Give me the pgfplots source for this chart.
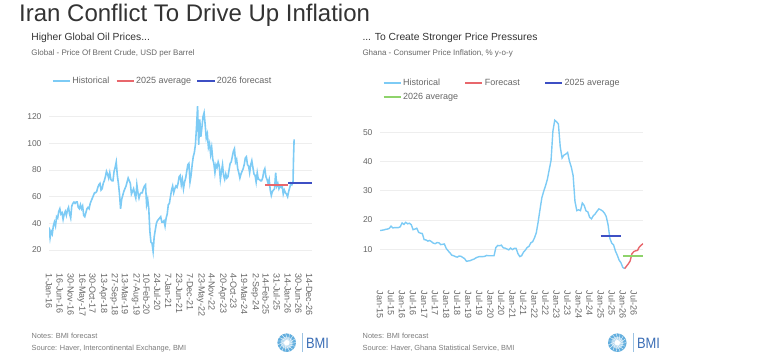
\documentclass[border=0pt]{standalone}
\usepackage{pgfplots}
\pgfplotsset{compat=1.18}
\usepackage{fontspec}
\setmainfont{Liberation Sans}
\definecolor{histblue}{HTML}{7DCBF5}
\definecolor{avgred}{HTML}{E8676C}
\definecolor{avgblue}{HTML}{3D4FC4}
\definecolor{avggreen}{HTML}{8ED36B}
\definecolor{txtdark}{HTML}{333333}
\definecolor{txtgrey}{HTML}{666666}
\definecolor{notegrey}{HTML}{7A7A7A}
\definecolor{gridc}{HTML}{EEEEEE}
\definecolor{bmiblue}{HTML}{3A6DB5}
\definecolor{logolight}{HTML}{62AEDE}
\definecolor{barc}{HTML}{9CC3E3}

\pgfplotsset{
 bmi/.style={
  scale only axis, axis line style={draw=none},
  major tick style={draw=none}, minor tick style={draw=none},
  ymajorgrids, major grid style={gridc, line width=0.6pt},
  /pgf/number format/assume math mode=true,
  yticklabel style={font=\fontsize{8.5}{10}\selectfont, text=txtgrey, xshift=-4pt},
  xticklabel style={font=\fontsize{9}{10}\selectfont, text=txtgrey, rotate=-90, anchor=west},
  legend cell align=left,
  legend style={draw=none, fill=none, font=\fontsize{9}{10}\selectfont, text=txtgrey,
     inner sep=0pt, outer sep=0pt, nodes={inner sep=1.5pt}, row sep=3.5pt,
     /tikz/every even column/.append style={column sep=5pt}},
 },
 limg/.style={legend image code/.code={\draw[#1, line width=1.8pt] (0pt,0pt) -- (17pt,0pt);}},
}

\newcommand{\bmilogo}[3]{% circle center x, y ; bar x
  \fill[logolight] (#1,#2) circle (9.3);
  \fill[logolight!50!white] (#1,#2) circle (6);
  \fill[white] (#1,#2) circle (2.8);
  \foreach \a in {0,24,...,336} {\draw[white, line width=0.35pt] (#1,#2) ++(\a:2.8) -- ++(\a+35:6.6);}
  \draw[barc, line width=0.8pt] (#3,5.3) -- (#3,24);
  \node[anchor=base west, inner sep=0pt, text=bmiblue, font=\fontsize{15}{16}\selectfont] at (#3+3.5,8.7) {\scalebox{0.86}[1]{BMI}};
}

\begin{document}
\begin{tikzpicture}[x=1pt,y=1pt]
\path[use as bounding box] (0,0) rectangle (759,357);

% titles
\node[anchor=base west, inner sep=0pt, text=txtdark, font=\fontsize{24}{26}\selectfont] at (19,335.3) {Iran Conflict To Drive Up Inflation};
\node[anchor=base west, inner sep=0pt, text=txtdark, font=\fontsize{10.3}{12}\selectfont] at (31.2,316.7) {Higher Global Oil Prices...};
\node[anchor=base west, inner sep=0pt, text=txtgrey, font=\fontsize{8}{9}\selectfont] at (31.2,301.3) {Global - Price Of Brent Crude, USD per Barrel};
\node[anchor=base west, inner sep=0pt, text=txtdark, font=\fontsize{10.3}{12}\selectfont] at (362.3,316.7) {... To Create Stronger Price Pressures};
\node[anchor=base west, inner sep=0pt, text=txtgrey, font=\fontsize{8}{9}\selectfont] at (362.3,301.3) {Ghana - Consumer Price Inflation, \% y-o-y};

% notes
\node[anchor=base west, inner sep=0pt, text=notegrey, font=\fontsize{7.4}{8}\selectfont] at (31.5,18.7) {Notes: BMI forecast};
\node[anchor=base west, inner sep=0pt, text=notegrey, font=\fontsize{7.4}{8}\selectfont] at (31.5,6.3) {Source: Haver, Intercontinental Exchange, BMI};
\node[anchor=base west, inner sep=0pt, text=notegrey, font=\fontsize{7.4}{8}\selectfont] at (362.5,18.7) {Notes: BMI forecast};
\node[anchor=base west, inner sep=0pt, text=notegrey, font=\fontsize{7.4}{8}\selectfont] at (362.5,6.3) {Source: Haver, Ghana Statistical Service, BMI};

\bmilogo{286.7}{14.3}{302.3}
\bmilogo{617.3}{14.3}{633.3}

% ---------------- Left: Brent ----------------
\begin{axis}[bmi,
  at={(49pt,96.3pt)}, anchor=south west,
  width=263pt, height=157.3pt,
  xmin=0, xmax=24.25, ymin=12, ymax=130,
  ytick={20,40,60,80,100,120},
  xtick={0,1,...,24},
  xticklabels={1-Jan-16,16-Jun-16,30-Nov-16,16-May-17,30-Oct-17,13-Apr-18,27-Sep-18,13-Mar-19,27-Aug-19,10-Feb-20,24-Jul-20,7-Jan-21,23-Jun-21,7-Dec-21,23-May-22,4-Nov-22,20-Apr-23,4-Oct-23,19-Mar-24,2-Sep-24,14-Feb-25,31-Jul-25,14-Jan-26,30-Jun-26,14-Dec-26},
  xticklabel style={xshift=9pt},
  legend columns=3,
  legend style={at={(axis description cs:0.0114,1.14)}, anchor=west},
]
\addplot[histblue, line width=1.6pt, limg=histblue] coordinates {
(0,37)(0.1,29)(0.2,34)(0.3,32)(0.4,38)(0.5,41)(0.6,38)(0.7,45)(0.8,44)(0.9,49)
(1.0,51)(1.1,47)(1.2,48)(1.3,43)(1.4,47)(1.5,49)(1.6,46)(1.7,50)(1.8,52)(1.9,47)
(2.0,44)(2.1,53)(2.2,55)(2.3,56)(2.4,55)(2.5,56)(2.6,56)(2.7,52)(2.8,51)(2.9,54)
(3.0,51)(3.1,53)(3.2,46)(3.3,45)(3.4,48)(3.5,51)(3.6,52)(3.7,51)(3.8,55)(3.9,57)
(4.0,59)(4.1,61)(4.2,63)(4.3,63)(4.4,64)(4.5,67)(4.6,69)(4.7,70)(4.8,65)(4.9,66)
(5.0,70)(5.1,72)(5.2,75)(5.3,79)(5.4,77)(5.5,74)(5.6,78)(5.7,73)(5.8,72)(5.9,72)
(6.0,79)(6.1,82)(6.2,86)(6.3,76)(6.4,70)(6.5,62)(6.6,51)(6.7,58)(6.8,61)(6.9,64)
(7.0,66)(7.1,68)(7.2,71)(7.3,74)(7.4,72)(7.5,70)(7.6,62)(7.7,64)(7.8,66)(7.9,62)
(8.0,59)(8.1,69)(8.2,63)(8.3,59)(8.4,62)(8.5,63)(8.6,63)(8.7,66)(8.8,68)(8.9,69)
(9.0,54)(9.1,58)(9.2,51)(9.3,34)(9.4,26)(9.5,25)(9.6,19)(9.7,30)(9.8,35)(9.9,40)
(10.0,42)(10.1,43)(10.2,44)(10.3,45)(10.4,41)(10.5,41)(10.6,42)(10.7,38)(10.8,44)(10.9,47)
(11.0,54)(11.1,55)(11.2,60)(11.3,65)(11.4,68)(11.5,63)(11.6,66)(11.7,68)(11.8,67)(11.9,70)
(12.0,75)(12.1,76)(12.2,69)(12.3,73)(12.4,66)(12.5,71)(12.6,74)(12.7,79)(12.8,84)(12.9,85)
(13.0,71)(13.1,76)(13.2,84)(13.3,90)(13.4,93)(13.5,99)(13.6,112)(13.7,128)(13.8,99)(13.9,118)
(14.0,105)(14.1,112)(14.2,120)(14.3,123)(14.4,114)(14.5,104)(14.6,107)(14.7,97)(14.8,100)(14.9,92)
(15.0,97)(15.1,88)(15.2,85)(15.3,78)(15.4,84)(15.5,82)(15.6,86)(15.7,83)(15.8,73)(15.9,79)
(16.0,84)(16.1,76)(16.2,73)(16.3,77)(16.4,74)(16.5,75)(16.6,80)(16.7,85)(16.8,86)(16.9,90)
(17.0,94)(17.1,96)(17.2,86)(17.3,88)(17.4,81)(17.5,78)(17.6,74)(17.7,77)(17.8,79)(17.9,81)
(18.0,84)(18.1,89)(18.2,90)(18.3,84)(18.4,83)(18.5,78)(18.6,84)(18.7,87)(18.8,82)(18.9,77)
(19.0,76)(19.1,71)(19.2,78)(19.3,73)(19.4,73)(19.5,72)(19.6,72)(19.7,74)(19.8,79)(19.9,81)
(20.0,75)(20.1,73)(20.2,70)(20.3,73)(20.4,65)(20.5,61)(20.6,64)(20.7,65)(20.8,66)(20.9,78)
(21.0,68)(21.1,70)(21.2,66)(21.3,68)(21.4,67)(21.5,68)(21.6,62)(21.7,65)(21.8,63)(21.9,62)
(22.0,60)(22.1,64)(22.2,67)(22.3,70)(22.4,69)(22.5,71)(22.55,90)(22.6,103)
};
\addlegendentry{\makebox[37pt][l]{Historical}}
\addplot[avgred, line width=2pt, limg=avgred] coordinates {(19.9,69)(22.05,69)};
\addlegendentry{\makebox[54pt][l]{2025 average}}
\addplot[avgblue, line width=2pt, limg=avgblue] coordinates {(22.05,70)(24.25,70)};
\addlegendentry{2026 forecast}
\end{axis}

% ---------------- Right: Ghana CPI ----------------
\begin{axis}[bmi,
  at={(380pt,81.4pt)}, anchor=south west,
  width=263pt, height=160.9pt,
  xmin=0, xmax=143, ymin=1, ymax=56,
  ytick={10,20,30,40,50},
  xtick={0,6,...,138},
  xticklabels={Jan-15,Jul-15,Jan-16,Jul-16,Jan-17,Jul-17,Jan-18,Jul-18,Jan-19,Jul-19,Jan-20,Jul-20,Jan-21,Jul-21,Jan-22,Jul-22,Jan-23,Jul-23,Jan-24,Jul-24,Jan-25,Jul-25,Jan-26,Jul-26},
  xticklabel style={xshift=11.5pt},
  legend columns=3,
  legend style={at={(axis description cs:0.0103,1.1535)}, anchor=west},
]
\addplot[histblue, line width=1.4pt, limg=histblue] coordinates {
(0,16.4)(1,16.5)(2,16.6)(3,16.8)(4,16.9)(5,17.1)(6,17.9)(7,17.3)(8,17.4)(9,17.4)(10,17.4)(11,17.7)
(12,19.0)(13,18.5)(14,19.2)(15,18.7)(16,18.9)(17,18.4)(18,16.7)(19,16.9)(20,17.2)(21,15.8)(22,15.5)(23,15.4)
(24,13.3)(25,13.2)(26,12.8)(27,13.0)(28,12.6)(29,12.1)(30,11.9)(31,12.3)(32,12.2)(33,11.6)(34,11.7)(35,11.8)
(36,10.3)(37,9.5)(38,8.8)(39,8.0)(40,7.8)(41,7.5)(42,7.3)(43,7.7)(44,7.6)(45,7.2)(46,6.8)(47,5.9)
(48,6.0)(49,6.1)(50,6.4)(51,6.6)(52,7.0)(53,7.3)(54,7.5)(55,7.5)(56,7.5)(57,7.6)(58,7.9)(59,7.8)
(60,7.8)(61,7.8)(62,7.8)(63,10.6)(64,11.3)(65,11.2)(66,11.4)(67,10.5)(68,10.4)(69,10.1)(70,9.8)(71,10.4)
(72,9.9)(73,10.3)(74,10.3)(75,8.5)(76,7.5)(77,7.8)(78,9.0)(79,9.7)(80,10.6)(81,11.0)(82,12.2)(83,12.6)
(84,13.9)(85,15.7)(86,19.4)(87,23.6)(88,27.6)(89,29.8)(90,31.7)(91,33.9)(92,37.2)(93,40.4)(94,50.3)(95,54.1)
(96,53.6)(97,52.8)(98,45.0)(99,41.2)(100,42.2)(101,42.5)(102,43.1)(103,40.1)(104,38.1)(105,35.2)(106,26.4)(107,23.2)
(108,23.5)(109,23.2)(110,25.8)(111,25.0)(112,23.1)(113,22.8)(114,20.9)(115,20.4)(116,21.5)(117,22.1)(118,23.0)(119,23.8)
(120,23.5)(121,23.1)(122,22.4)(123,21.2)(124,18.4)(125,13.7)(126,12.1)(127,11.5)(128,9.4)(129,8.0)(130,6.3)(131,5.4)
(132,3.8)(133,3.4)
};
\addlegendentry{\makebox[53pt][l]{Historical}}
\addplot[avgred, line width=1.4pt, limg=avgred] coordinates {
(133,3.4)(134,4.2)(135,5.0)(136,6.0)(137,8.5)(138,9.2)(139,9.5)(140,9.6)(141,10.8)(142,11.4)(143,11.9)
};
\addlegendentry{\makebox[53pt][l]{Forecast}}
\addplot[avgblue, line width=2pt, limg=avgblue] coordinates {(120,14.7)(131,14.7)};
\addlegendentry{2025 average}
\addplot[avggreen, line width=2pt, limg=avggreen] coordinates {(132,7.8)(143,7.8)};
\addlegendentry{2026 average}
\end{axis}
\end{tikzpicture}
\end{document}
